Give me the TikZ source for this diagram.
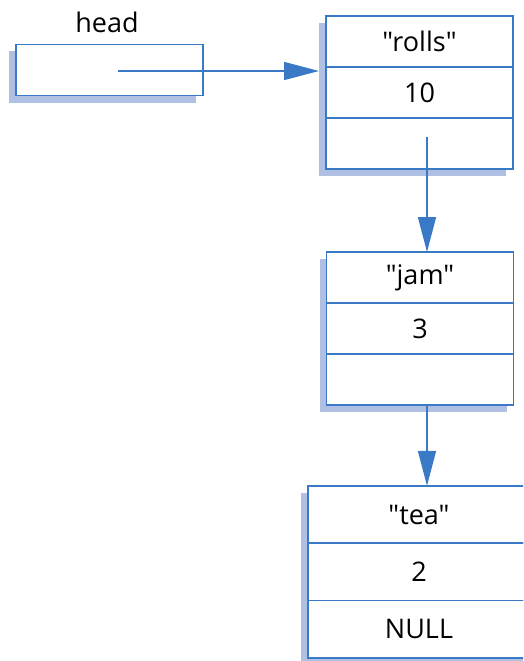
\documentclass[tikz,border=0pt]{standalone}
\usepackage{fontspec}
\setmainfont{Open Sans}[Ligatures=TeXOff]
\usetikzlibrary{positioning, shadows, arrows.meta}
\definecolor{linkblue}{RGB}{58,121,197}
\definecolor{shadowblue}{RGB}{176,192,227}

\begin{document}
\begin{tikzpicture}[x=1pt, y=-1pt,
    font=\fontsize{27}{32}\selectfont,
    cell/.style={draw=linkblue, line width=1.5pt, fill=white, outer sep=0pt, inner sep=0pt,
        minimum width=187pt, minimum height=51pt,
        drop shadow={shadow xshift=-7pt, shadow yshift=-7pt, fill=shadowblue, opacity=1}},
    bigcell/.style={cell, minimum width=222pt, minimum height=57.3pt},
    link/.style={draw=linkblue, line width=1.5pt, -{Triangle[length=35pt, width=18pt]}}]
    \clip (0,0) rectangle (523,661);
    % head pointer
    \node(head)[cell] at (109.5,70) {};
    \node(headlabel) at (107,22) {head};
    % first record
    \node(rolls)[cell] at (419.5,41.5) {"rolls"};
    \node(rolls-val)[cell, below=0pt of rolls] {10};
    \node(rolls-next)[cell, below=0pt of rolls-val] {};
    % second record
    \node(jam)[cell] at (420,277.5) {"jam"};
    \node(jam-val)[cell, below=0pt of jam] {3};
    \node(jam-next)[cell, below=0pt of jam-val] {};
    % last record
    \node(tea)[bigcell] at (419,514.5) {"tea"};
    \node(tea-val)[bigcell, below=0pt of tea] {2};
    \node(tea-next)[bigcell, below=0pt of tea-val] {NULL};
    % links
    \coordinate(head-ptr) at (118,71);
    \coordinate(rolls-ptr) at (427,137);
    \coordinate(jam-ptr) at (427,404);
    \draw[link] (head-ptr) -- ([xshift=-7pt]head-ptr -| rolls.west);
    \draw[link] (rolls-ptr) -- (rolls-ptr |- jam.north);
    \draw[link] (jam-ptr) -- (jam-ptr |- tea.north);
\end{tikzpicture}
\end{document}
